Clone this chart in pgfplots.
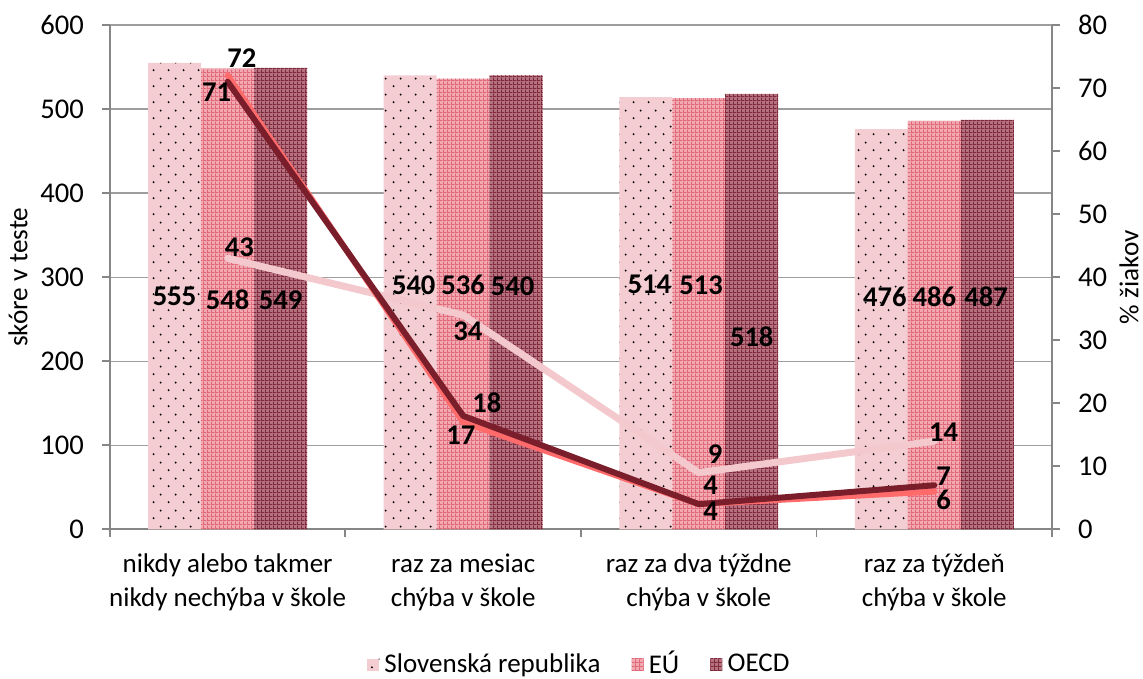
\documentclass[border=0pt]{standalone}
\usepackage{pgfplots}
\pgfplotsset{compat=1.18}
\usepackage{fontspec}
\setmainfont{Carlito}
\usetikzlibrary{patterns.meta}

\definecolor{axgray}{HTML}{868686}
\definecolor{srfill}{HTML}{F3CDD2}
\definecolor{eufill}{HTML}{F2A8B0}
\definecolor{eugrid}{HTML}{DE6676}
\definecolor{oefill}{HTML}{B47280}
\definecolor{oegrid}{HTML}{80283A}
\definecolor{srl}{HTML}{F3C9CE}
\definecolor{eul}{HTML}{FF6B6B}
\definecolor{oel}{HTML}{7A1E2B}

\tikzdeclarepattern{name=srdots, type=uncolored,
  bounding box={(0pt,0pt) and (5.8pt,6pt)}, tile size={(5.8pt,6pt)},
  code={\fill (1.45pt,1.5pt) circle (0.42pt); \fill (4.35pt,4.5pt) circle (0.42pt);}}
\tikzdeclarepattern{name=finegrid, type=uncolored,
  bounding box={(0pt,0pt) and (1.6pt,1.6pt)}, tile size={(1.6pt,1.6pt)},
  code={\fill (0pt,0pt) rectangle (0.45pt,1.6pt); \fill (0pt,0pt) rectangle (1.6pt,0.45pt);}}

\tikzset{
  srbar/.style={fill=srfill, draw=none, postaction={pattern=srdots, pattern color=black}},
  eubar/.style={fill=eufill, draw=none, postaction={pattern=finegrid, pattern color=eugrid}},
  oebar/.style={fill=oefill, draw=none, postaction={pattern=finegrid, pattern color=oegrid}},
  lab/.style={font=\fontsize{11}{13}\selectfont\bfseries, text=black, inner sep=0pt},
}

\pgfplotsset{
  common/.style={
    at={(0,0)}, anchor=south west,
    scale only axis, width=362.7pt, height=194.2pt,
    xmin=-0.5, xmax=3.5,
    /pgf/number format/assume math mode=true,
    tick align=outside,
    major tick length=3pt, minor tick length=3pt,
    axis line style={axgray, line width=0.75pt},
    every tick/.style={axgray, line width=0.75pt},
    tick label style={font=\fontsize{11}{13}\selectfont, text=black},
    label style={font=\fontsize{10.5}{12}\selectfont, text=black},
  },
  barleg/.style={legend image code/.code={\path[##1] (0pt,-2.3pt) rectangle (4.6pt,2.3pt);}},
}

\begin{document}
\begin{tikzpicture}
\path[use as bounding box] (-42.3pt,-57.3pt) rectangle (397.7pt,203.8pt);

\begin{axis}[common,
  ymin=0, ymax=600, ytick={0,100,...,600},
  axis y line*=left, axis x line*=bottom,
  ymajorgrids, grid style={axgray!80, line width=0.5pt},
  xtick={0,1,2,3},
  xticklabels={{nikdy alebo takmer\\nikdy nechýba v škole},{raz za mesiac\\chýba v škole},{raz za dva týždne\\chýba v škole},{raz za týždeň\\chýba v škole}},
  x tick label style={align=center, font=\fontsize{10.4}{13}\selectfont, yshift=-3pt},
  y tick label style={xshift=-3.5pt},
  major x tick style={draw=none},
  minor xtick={-0.5,0.5,1.5,2.5,3.5},
  ylabel={skóre v teste},
  y label style={at={(axis description cs:-0.0976,0.5)}, anchor=center},
  legend columns=3,
  legend style={draw=none, fill=none, at={(0.5,-0.268)}, anchor=center,
    font=\fontsize{10.4}{12}\selectfont, inner sep=0pt,
    /tikz/every even column/.append style={column sep=10pt}},
  legend cell align=left,
]
\addplot[ybar, bar width=0.225, bar shift=0pt, srbar, barleg] coordinates {(-0.225,555) (0.775,540) (1.775,514) (2.775,476)};
\addlegendentry{Slovenská republika}
\addplot[ybar, bar width=0.225, bar shift=0pt, eubar, barleg] coordinates {(0,548) (1,536) (2,513) (3,486)};
\addlegendentry{EÚ}
\addplot[ybar, bar width=0.225, bar shift=0pt, oebar, barleg] coordinates {(0.225,549) (1.225,540) (2.225,518) (3.225,487)};
\addlegendentry{OECD}
\end{axis}

\begin{axis}[common,
  ymin=0, ymax=80, ytick={0,10,...,80},
  axis y line*=right, axis x line=none,
  y tick label style={xshift=3.5pt},
  ylabel={\% žiakov},
  y label style={at={(axis description cs:1.0816,0.5)}, anchor=center},
]
\addplot[srl, line width=2.7pt, line join=round, line cap=round] coordinates {(0,43) (1,34) (2,9) (3,14)};
\addplot[eul, line width=2.3pt, line join=round, line cap=round] coordinates {(0,72) (1,17) (2,4) (3,6)};
\addplot[oel, line width=2.3pt, line join=round, line cap=round] coordinates {(0,71) (1,18) (2,4) (3,7)};

% bar value labels (converted to right-axis scale: score/7.5)
\node[lab] at (axis cs:-0.225,36.9) {555};
\node[lab] at (axis cs:0,36.4) {548};
\node[lab] at (axis cs:0.225,36.4) {549};
\node[lab] at (axis cs:0.79,38.8) {540};
\node[lab] at (axis cs:1,38.8) {536};
\node[lab] at (axis cs:1.21,38.5) {540};
\node[lab] at (axis cs:1.79,38.8) {514};
\node[lab] at (axis cs:2.01,38.8) {513};
\node[lab] at (axis cs:2.225,30.5) {518};
\node[lab] at (axis cs:2.79,36.9) {476};
\node[lab] at (axis cs:3,36.9) {486};
\node[lab] at (axis cs:3.22,36.9) {487};
% line value labels
\node[lab] at (axis cs:0.06,74.8) {72};
\node[lab] at (axis cs:-0.047,69.4) {71};
\node[lab] at (axis cs:0.05,44.8) {43};
\node[lab] at (axis cs:1.02,31.4) {34};
\node[lab] at (axis cs:1.1,20.1) {18};
\node[lab] at (axis cs:0.99,15) {17};
\node[lab] at (axis cs:2.07,11.9) {9};
\node[lab] at (axis cs:2.05,7.0) {4};
\node[lab] at (axis cs:2.05,2.85) {4};
\node[lab] at (axis cs:3.04,15.4) {14};
\node[lab] at (axis cs:3.04,8.4) {7};
\node[lab] at (axis cs:3.04,4.7) {6};
\end{axis}
\end{tikzpicture}
\end{document}
